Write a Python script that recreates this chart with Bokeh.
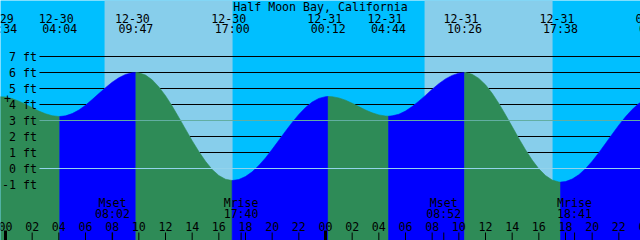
from bokeh.plotting import figure
from bokeh.models import ColumnDataSource, Range1d
from bokeh.embed import file_html
from bokeh.resources import INLINE
from bokeh.core.properties import value

# ---------------- data ----------------
title = "Half Moon Bay, California"

# tide extremes, hours after 12-30 00:00
event_hours = [-0.43, 4.07, 9.78, 17.0, 24.2, 28.73, 34.43, 41.63, 48.83]
event_heights = [4.48, 3.25, 6.0, -0.75, 4.5, 3.27, 6.0, -0.85, 4.5]
event_dates = ["12-29", "12-30", "12-30", "12-30", "12-31", "12-31", "12-31", "12-31", "01-01"]
event_times = ["23:34", "04:04", "09:47", "17:00", "00:12", "04:44", "10:26", "17:38", "00:50"]

# half-hourly tide heights (ft), hours -1.0 .. 48.0
curve_hours = [i * 0.5 for i in range(-2, 97)]
curve_heights = [
    4.45, 4.48, 4.47, 4.37, 4.21, 4.01, 3.80, 3.59, 3.42, 3.30,      # -1.0 .. 3.5
    3.25, 3.29, 3.43, 3.65, 3.95, 4.31, 4.68, 5.05, 5.39, 5.67,      # 4.0 .. 8.5
    5.88, 5.98, 5.98, 5.84, 5.54, 5.10, 4.55, 3.90, 3.19, 2.46,      # 9.0 .. 13.5
    1.74, 1.06, 0.45, -0.06, -0.44, -0.67, -0.75, -0.69, -0.50, -0.21,  # 14.0 .. 18.5
    0.19, 0.66, 1.20, 1.76, 2.33, 2.88, 3.38, 3.81, 4.15, 4.38,      # 19.0 .. 23.5
    4.49, 4.49, 4.41, 4.27, 4.08, 3.87, 3.66, 3.48, 3.35, 3.28,      # 24.0 .. 28.5
    3.29, 3.39, 3.59, 3.87, 4.21, 4.57, 4.95, 5.30, 5.60, 5.82,      # 29.0 .. 33.5
    5.96, 6.00, 5.89, 5.63, 5.23, 4.70, 4.07, 3.36, 2.62, 1.88,      # 34.0 .. 38.5
    1.17, 0.53, -0.02, -0.44, -0.72, -0.84, -0.82, -0.66, -0.39, -0.01,  # 39.0 .. 43.5
    0.45, 0.99, 1.56, 2.14, 2.71, 3.23, 3.69, 4.06, 4.33,            # 44.0 .. 48.0
]

# daylight (sunrise / sunset), hours
day_start = [7.43, 31.43]
day_end = [17.03, 41.03]

# moon events
moon_hours = [8.03, 17.67, 32.87, 42.68]
moon_names = ["Mset", "Mrise", "Mset", "Mrise"]
moon_times = ["08:02", "17:40", "08:52", "18:41"]

# axis
tick_hours = list(range(0, 49, 2))
tick_labels = ["%02d" % (h % 24) for h in tick_hours]
day_marks = [0, 24, 48]
levels = [7, 6, 5, 4, 3, 2, 1, 0, -1]
level_labels = ["%d ft" % v for v in levels]
msl_level = [3]
datum_level = [0]

# ---------------- layout helpers ----------------
PXH = 640.0 / 48.0          # px per hour
X0 = -0.375
TOP = 10.5                  # ft at top edge
PXF = 16.0                  # px per ft


def tx(px):
    return px / PXH + X0


def ph(py):
    return TOP - py / PXF


FONT = value("DejaVu Sans Mono")
FS = value("11.6px")
BOTTOM = -6.0
LINE_START = tx(39)
LINE_END = X0 + 49

p = figure(width=640, height=240, x_range=Range1d(X0, X0 + 48), y_range=Range1d(TOP - 15, TOP),
           toolbar_location=None, output_backend="svg", min_border=0,
           x_axis_location=None, y_axis_location=None,
           background_fill_color="#00BFFF", border_fill_color="#00BFFF", outline_line_color=None)
p.grid.visible = False

# daylight
p.quad(left=day_start, right=day_end, bottom=BOTTOM, top=TOP + 1, fill_color="#87CEEB", line_color=None)

# merged tide curve
pts = sorted(dict(list(zip(curve_hours, curve_heights)) + list(zip(event_hours, event_heights))).items())


def dry_spans(level):
    """Spans of time where the water is below `level` (line visible in the sky)."""
    spans = []
    t0, h0 = pts[0]
    start = LINE_START if h0 < level else None
    for t1, h1 in pts[1:]:
        if (h0 < level) != (h1 < level):
            tc = t0 + (level - h0) * (t1 - t0) / (h1 - h0)
            if h1 < level:
                start = tc
            else:
                spans.append((max(start, LINE_START), tc))
                start = None
        t0, h0 = t1, h1
    if start is not None:
        spans.append((max(start, LINE_START), LINE_END))
    return [s for s in spans if s[1] > s[0]]


# black level lines, only above the water
gx0, gx1, gy = [], [], []
for lv in levels:
    if lv in msl_level or lv in datum_level:
        continue
    for a, b in dry_spans(lv):
        gx0.append(a)
        gx1.append(b)
        gy.append(lv)
p.segment(x0=gx0, x1=gx1, y0=gy, y1=gy, line_color="black", line_width=1)

# water
bounds = [curve_hours[0]] + [e for e in event_hours if curve_hours[0] < e < curve_hours[-1]] + [curve_hours[-1]]
xs, ys, cols = [], [], []
for a, b in zip(bounds[:-1], bounds[1:]):
    seg = [(t, h) for t, h in pts if a <= t <= b]
    sx = [t for t, _ in seg]
    sy = [h for _, h in seg]
    xs.append(sx + [sx[-1], sx[0]])
    ys.append(sy + [BOTTOM, BOTTOM])
    cols.append("#0000FF" if sy[-1] > sy[0] else "#2E8B57")
p.patches(xs="xs", ys="ys", fill_color="cols", line_color="cols", line_width=0.6,
          source=ColumnDataSource(dict(xs=xs, ys=ys, cols=cols)))

# msl and datum lines over everything
p.segment(x0=[LINE_START], x1=[LINE_END], y0=msl_level, y1=msl_level, line_color="#62AEA2", line_width=1)
p.segment(x0=[LINE_START], x1=[LINE_END], y0=datum_level, y1=datum_level, line_color="#93D3EC", line_width=1)

# level labels
p.text(x=[tx(36.5)] * len(levels), y=levels, text=level_labels, text_align="right",
       text_baseline="middle", text_font=FONT, text_font_size=FS, text_color="black")

# title and event labels
p.text(x=[tx(320)], y=[ph(6)], text=[title], text_align="center", text_baseline="middle",
       text_font=FONT, text_font_size=FS, text_color="black")
p.text(x=event_hours, y=[ph(17.5)] * len(event_hours), text=event_dates, x_offset=-3.5,
       text_align="center", text_baseline="middle", text_font=FONT, text_font_size=FS, text_color="black")
p.text(x=event_hours, y=[ph(28.5)] * len(event_hours), text=event_times,
       text_align="center", text_baseline="middle", text_font=FONT, text_font_size=FS, text_color="black")

# plus marker at left
p.text(x=[tx(7)], y=[ph(98)], text=["+"], text_align="center", text_baseline="middle",
       text_font=FONT, text_font_size=FS, text_color="black")

# moon labels
p.text(x=moon_hours, y=[ph(202)] * len(moon_hours), text=moon_names, text_align="center",
       text_baseline="middle", text_font=FONT, text_font_size=FS, text_color="black")
p.text(x=moon_hours, y=[ph(213)] * len(moon_hours), text=moon_times, text_align="center",
       text_baseline="middle", text_font=FONT, text_font_size=FS, text_color="black")

# hour ticks and labels
p.text(x=tick_hours, y=[ph(226)] * len(tick_hours), text=tick_labels, text_align="center",
       text_baseline="middle", text_font=FONT, text_font_size=FS, text_color="black")
p.segment(x0=tick_hours, x1=tick_hours, y0=[ph(232)] * len(tick_hours), y1=[BOTTOM] * len(tick_hours),
          line_color="black", line_width=1)
p.segment(x0=moon_hours, x1=moon_hours, y0=[ph(232)] * len(moon_hours), y1=[BOTTOM] * len(moon_hours),
          line_color="black", line_width=1)
p.segment(x0=day_marks, x1=day_marks, y0=[ph(230)] * len(day_marks), y1=[BOTTOM] * len(day_marks),
          line_color="black", line_width=3)

open("out.html", "w").write(file_html(p, INLINE))
